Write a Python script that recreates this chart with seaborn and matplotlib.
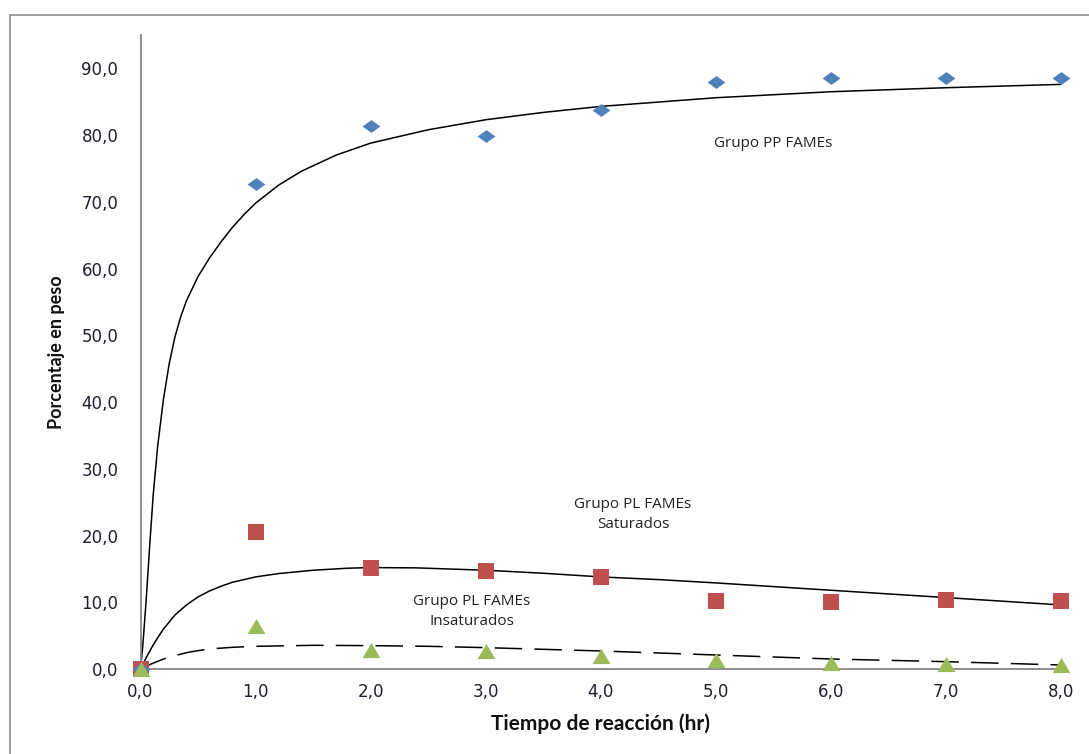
import matplotlib
matplotlib.use("Agg")
import matplotlib.pyplot as plt
from matplotlib.lines import Line2D
import seaborn as sns

# Measured composition (weight %) vs reaction time
tiempo = [0, 1, 2, 3, 4, 5, 6, 7, 8]
pp_fames = [0.0, 72.6, 81.4, 79.9, 83.7, 88.0, 88.5, 88.5, 88.5]
pl_saturados = [0.0, 20.5, 15.2, 14.7, 13.8, 10.2, 10.1, 10.3, 10.2]
pl_insaturados = [0.0, 6.5, 2.9, 2.7, 2.0, 1.4, 0.9, 0.8, 0.6]

# Kinetic model curves
pp_model_t = [0, 0.02, 0.05, 0.08, 0.11, 0.15, 0.2, 0.25, 0.3, 0.35, 0.4,
              0.5, 0.6, 0.7, 0.8, 0.9, 1.0, 1.2, 1.4, 1.7, 2.0, 2.5, 3.0,
              3.5, 4.0, 5.0, 6.0, 7.0, 8.0]
pp_model_y = [0, 3.5, 10.5, 18.5, 26.0, 33.5, 40.5, 45.8, 49.8, 52.8, 55.2,
              58.8, 61.6, 64.0, 66.2, 68.1, 69.8, 72.5, 74.6, 77.0, 78.8,
              80.8, 82.3, 83.4, 84.3, 85.6, 86.5, 87.1, 87.6]
sat_model_t = [0, 0.05, 0.1, 0.15, 0.2, 0.3, 0.4, 0.5, 0.6, 0.7, 0.8, 1.0,
               1.2, 1.5, 1.8, 2.0, 2.4, 3.0, 3.5, 4.0, 4.5, 5.0, 6.0, 7.0,
               8.0]
sat_model_y = [0, 1.7, 3.3, 4.7, 6.0, 8.1, 9.6, 10.8, 11.7, 12.4, 13.0,
               13.8, 14.3, 14.8, 15.1, 15.2, 15.15, 14.8, 14.35, 13.8, 13.4,
               12.9, 11.8, 10.7, 9.6]
ins_model_t = [0, 0.1, 0.2, 0.3, 0.4, 0.5, 0.6, 0.8, 1.0, 1.5, 2.0, 2.5,
               3.0, 3.5, 4.0, 4.5, 5.0, 5.5, 6.0, 6.5, 7.0, 7.5, 8.0]
ins_model_y = [0, 0.8, 1.5, 2.0, 2.45, 2.75, 3.0, 3.25, 3.4, 3.55, 3.5,
               3.4, 3.2, 2.95, 2.7, 2.4, 2.1, 1.8, 1.5, 1.3, 1.1, 0.85, 0.6]

x_ticks = [0, 1, 2, 3, 4, 5, 6, 7, 8]
y_ticks = [0, 10, 20, 30, 40, 50, 60, 70, 80, 90]

sns.set_style("white")
plt.rcParams["font.family"] = ["DejaVu Sans"]

W, H = 1089, 754
fig = plt.figure(figsize=(W / 100, H / 100), dpi=100)
ax = fig.add_axes([140.5 / W, 1 - 669 / H, 920.5 / W, 634 / H])

# Outer chart frame
frame_col = "#8c8c8c"
fig.add_artist(Line2D([10 / W, 1.0], [1 - 15 / H, 1 - 15 / H], color=frame_col,
                      lw=1.2, transform=fig.transFigure))
fig.add_artist(Line2D([10 / W, 10 / W], [1 - 15 / H, 0.0], color=frame_col,
                      lw=1.2, transform=fig.transFigure))

# Model curves
line_kw = dict(ax=ax, color="black", lw=1.1, sort=False, estimator=None,
               zorder=2)
sns.lineplot(x=pp_model_t, y=pp_model_y, **line_kw)
sns.lineplot(x=sat_model_t, y=sat_model_y, **line_kw)
sns.lineplot(x=ins_model_t, y=ins_model_y, linestyle=(0, (18, 8)), **line_kw)

# Experimental points
diamond = [(-1, 0), (0, 0.72), (1, 0), (0, -0.72), (-1, 0)]
triangle = [(-1, -0.85), (1, -0.85), (0, 0.85), (-1, -0.85)]
sns.scatterplot(x=tiempo, y=pl_saturados, ax=ax, marker="s", s=140,
                color="#C0504D", linewidth=0, clip_on=False, zorder=3)
sns.scatterplot(x=tiempo, y=pl_insaturados, ax=ax, marker=triangle, s=165,
                color="#9BBB59", linewidth=0, clip_on=False, zorder=4)
sns.scatterplot(x=tiempo, y=pp_fames, ax=ax, marker=diamond, s=165,
                color="#4F81BD", linewidth=0, clip_on=False, zorder=3)

ax.set_xlim(0, 8)
ax.set_ylim(0, 95)
ax.set_xticks(x_ticks)
ax.set_yticks(y_ticks)
ax.set_xticklabels([f"{v:.1f}".replace(".", ",") for v in x_ticks])
ax.set_yticklabels([f"{v:.1f}".replace(".", ",") for v in y_ticks])
for lab in ax.get_xticklabels() + ax.get_yticklabels():
    lab.set_fontfamily("DejaVu Sans")
    lab.set_fontsize(12)
    lab.set_color("#1f1f2f")

spine_col = "#868686"
for side in ("top", "right"):
    ax.spines[side].set_visible(False)
for side in ("left", "bottom"):
    ax.spines[side].set_color(spine_col)
    ax.spines[side].set_linewidth(1.3)
ax.tick_params(axis="both", direction="out", length=5, width=1.2,
               color=spine_col)
ax.tick_params(axis="y", pad=11)
ax.tick_params(axis="x", pad=5)

ax.set_xlabel("Tiempo de reacción (hr)", fontsize=15, fontweight="bold",
              family="Lato", labelpad=9, color="#111111")
ax.set_ylabel("Porcentaje en peso", fontsize=13, fontweight="bold",
              family="Lato", labelpad=12, color="#111111")

ann = dict(fontsize=11, family="Open Sans", color="#222222", ha="center",
           va="center", linespacing=1.45)
ax.text(5.5, 78.8, "Grupo PP FAMEs", **ann)
ax.text(4.28, 23.2, "Grupo PL FAMEs\nSaturados", **ann)
ax.text(2.88, 8.6, "Grupo PL FAMEs\nInsaturados", **ann)

fig.savefig("out.png", dpi=100, facecolor="white")
